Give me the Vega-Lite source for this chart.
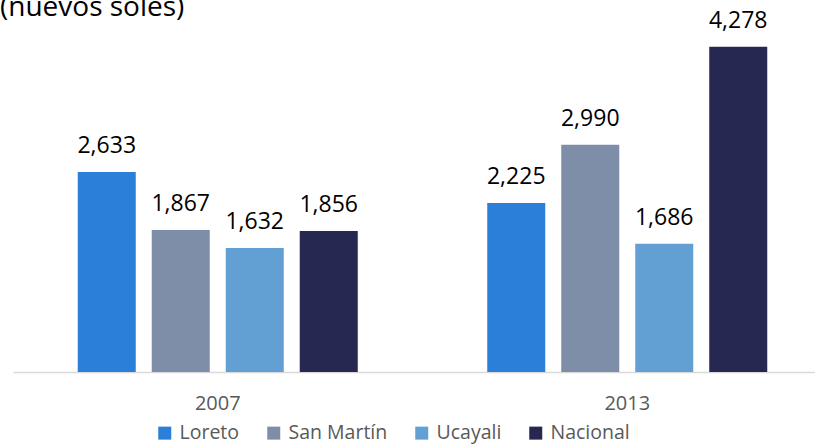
{
  "$schema": "https://vega.github.io/schema/vega-lite/v6.json",
  "width": 802,
  "height": 342,
  "autosize": "none",
  "padding": {"left": 13, "top": 30, "right": 0, "bottom": 72},
  "background": "#ffffff",
  "config": {"view": {"stroke": null}, "font": "Open Sans"},
  "title": {"text": "(nuevos soles)", "anchor": "start", "frame": "group", "offset": 4, "dx": -13, "dy": 16, "fontSize": 28, "font": "Open Sans", "fontWeight": "normal", "color": "#000000"},
  "data": {"values": [
    {"year": "2007", "region": "Loreto", "value": 2633},
    {"year": "2007", "region": "San Martín", "value": 1867},
    {"year": "2007", "region": "Ucayali", "value": 1632},
    {"year": "2007", "region": "Nacional", "value": 1856},
    {"year": "2013", "region": "Loreto", "value": 2225},
    {"year": "2013", "region": "San Martín", "value": 2990},
    {"year": "2013", "region": "Ucayali", "value": 1686},
    {"year": "2013", "region": "Nacional", "value": 4278}
  ]},
  "encoding": {
    "x": {"field": "year", "type": "nominal", "title": null,
      "scale": {"paddingInner": 0, "paddingOuter": 0, "range": [0, 819]},
      "axis": {"labelAngle": 0, "ticks": false, "tickSize": 0, "domainColor": "#d9d9d9", "domainWidth": 1.5, "labelFontSize": 20, "labelColor": "#595959", "labelPadding": 21, "labelFont": "Open Sans"}},
    "xOffset": {"field": "region", "type": "nominal", "sort": ["Loreto", "San Martín", "Ucayali", "Nacional"],
      "scale": {"paddingInner": 0.216, "paddingOuter": 0.875}},
    "y": {"field": "value", "type": "quantitative", "scale": {"domain": [0, 4500]}, "axis": null}
  },
  "layer": [
    {"mark": {"type": "bar"},
     "encoding": {"color": {"field": "region", "type": "nominal", "sort": ["Loreto", "San Martín", "Ucayali", "Nacional"],
       "scale": {"domain": ["Loreto", "San Martín", "Ucayali", "Nacional"], "range": ["#2B7FD9", "#7E8EA9", "#62A0D4", "#262852"]},
       "legend": {"title": null, "orient": "none", "direction": "horizontal", "legendX": 142, "legendY": 393, "symbolType": "square", "symbolSize": 169, "symbolStrokeWidth": 0, "labelFontSize": 19.5, "labelColor": "#595959", "labelFont": "Open Sans", "labelOffset": 5, "columnPadding": 24}}}},
    {"mark": {"type": "text", "baseline": "alphabetic", "dy": -19, "fontSize": 23, "color": "#000000", "font": "Open Sans"},
     "encoding": {"text": {"field": "value", "type": "quantitative", "format": ","}}}
  ]
}
